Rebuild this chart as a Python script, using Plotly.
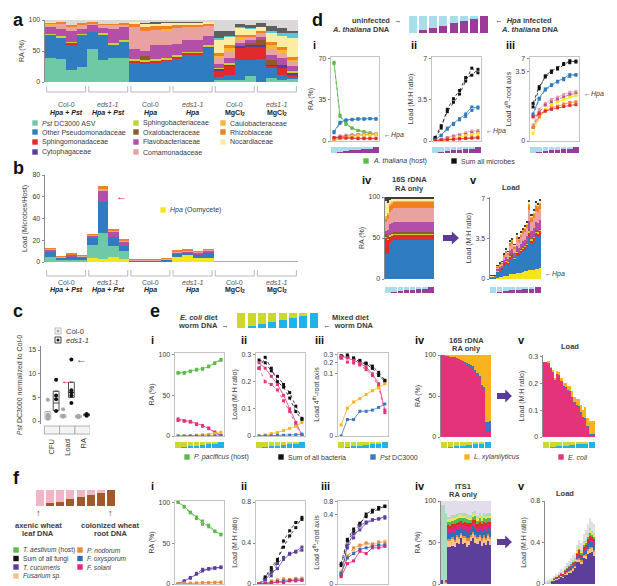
import plotly.graph_objects as go

W, H = 617, 586
FONT = "Liberation Sans, Arial, Helvetica, sans-serif"
TXT = "#3a3a3a"
AX = "#8a8a8a"
FRAME = "#c4c4c4"


def PX(x):
    return x / W


def PY(y):
    return 1 - y / H


# ---------------- colours ----------------
C_PST = '#70c9a6'
C_PSEUDO = '#2f7dc0'
C_SPHINGOM = '#e12a2b'
C_CYTO = '#5b3b97'
C_SPHINGOB = '#c4d52f'
C_OXALO = '#8c5a2d'
C_FLAVO = '#b34fa8'
C_COMA = '#e8a2a2'
C_CAULO = '#f8b731'
C_RHIZO = '#f07f25'
C_NOCAR = '#fbeea3'
C_CYANX = '#5ac7d9'
C_DARK = '#5f5f5f'
C_OTHER = '#dcd8d8'
C_HPA = '#f6e51b'
C_HOST = '#5cba47'
C_BLACK = '#111111'

# ---------------- panel a / b data ----------------
genotypes = ['Col-0', 'eds1-1', 'Col-0', 'eds1-1', 'Col-0', 'eds1-1']
treatments = ['Hpa + Pst', 'Hpa + Pst', 'Hpa', 'Hpa', 'MgCl2', 'MgCl2']
samples = list(range(24))

a_pst = [39, 37, 20, 24, 53, 35, 38, 38, 0, 0, 0, 0, 0, 0, 0, 0, 3, 3, 3, 10, 0, 7, 3, 5]
a_pseudo = [38, 34, 40, 53, 28, 42, 22, 28, 31, 30, 32, 34, 38, 45, 44, 55, 5, 9, 32, 26, 37, 15, 9, 4]
a_sphingom = [0, 1, 3, 0, 0, 0, 0, 0, 4, 3, 3, 3, 3, 2, 3, 3, 10, 15, 20, 22, 21, 4, 12, 3]
a_cyto = [0, 0, 0, 0, 0, 0, 0, 0, 0, 0, 0, 0, 0, 0, 0, 0, 3, 2, 3, 2, 2, 2, 3, 4]
a_sphingob = [1, 2, 1, 1, 0, 2, 3, 1, 2, 2, 2, 2, 3, 2, 2, 2, 2, 1, 0, 0, 0, 0, 0, 2]
a_oxalo = [0, 0, 0, 0, 0, 0, 0, 0, 0, 7, 0, 0, 0, 0, 0, 0, 0, 0, 0, 3, 8, 8, 0, 0]
a_flavo = [10, 12, 18, 8, 11, 8, 23, 21, 17, 8, 23, 21, 18, 19, 18, 15, 6, 8, 5, 5, 4, 8, 12, 8]
a_coma = [5, 9, 7, 7, 3, 5, 6, 5, 34, 33, 24, 23, 25, 20, 21, 15, 10, 10, 6, 5, 8, 10, 8, 6]
a_caulo = [1, 0, 0, 0, 0, 0, 0, 0, 0, 0, 0, 2, 0, 0, 0, 0, 3, 8, 3, 0, 0, 6, 4, 4]
a_rhizo = [2, 2, 3, 2, 1, 2, 2, 2, 5, 5, 6, 6, 5, 5, 5, 4, 5, 3, 4, 3, 3, 5, 5, 5]
a_nocar = [1, 0, 0, 0, 0, 0, 0, 0, 4, 6, 5, 5, 4, 3, 3, 3, 22, 15, 12, 10, 6, 15, 18, 30]
a_cyanx = [0, 0, 0, 0, 0, 0, 0, 0, 0, 0, 0, 0, 0, 0, 0, 0, 2, 1, 1, 1, 0, 3, 5, 8]
a_dark = [0, 0, 0, 0, 0, 0, 0, 0, 1, 1, 1, 1, 1, 1, 1, 1, 12, 8, 5, 5, 6, 8, 8, 4]

b_hpa = [0, 0, 0, 0, 4, 3, 5, 3, 0.6, 0.6, 0.6, 0.8, 5, 6, 4, 4, 0, 0, 0, 0, 0, 0, 0, 0]
b_pst = [5, 2, 1.5, 1.5, 12, 24, 10, 7.5, 0, 0, 0, 0, 0, 0, 0, 0, 0, 0, 0, 0, 0, 0, 0, 0]
b_pseudo = [4.5, 1.8, 3.5, 3, 6, 28, 8, 4.5, 0.7, 0.7, 0.7, 1.2, 2.5, 3, 3, 5, 0.1, 0.1, 0.2, 0.2, 0.2, 0.1, 0.1, 0.1]
b_flavo = [2, 0.6, 1.5, 1, 2, 10, 5, 4, 0.3, 0.3, 0.3, 0.4, 1.5, 1, 1.5, 1.5, 0.1, 0.1, 0.1, 0.1, 0.1, 0.05, 0.05, 0.05]
b_coma = [0.5, 0.3, 0.8, 0.5, 1, 3, 1, 1, 0.4, 0.4, 0.4, 0.5, 1, 1, 1, 1, 0.1, 0.1, 0.2, 0.1, 0.2, 0.1, 0.1, 0.1]
b_rhizo = [0.3, 0.2, 0.4, 0.3, 0.6, 1.5, 0.6, 0.5, 0.1, 0.1, 0.1, 0.1, 0.4, 0.4, 0.4, 0.4, 0, 0, 0, 0, 0, 0, 0, 0]
b_other = [0, 0, 0, 0, 0, 0, 0, 0, 0, 0, 0, 0, 0, 0, 0, 0, 0.1, 0.2, 0.2, 0.2, 0.3, 0.1, 0.1, 0.1]

# ---------------- panel c data ----------------
c_cats = ['CFU', 'Load', 'RA']
c_col0_cfu = [0.5, 0.7, 1.0, 1.4, 4.5]
c_col0_load = [0.9, 1.0, 1.1, 2.5]
c_col0_ra = [0.8, 1.0, 1.1]
c_eds_cfu = [2.1, 4.6, 5.4, 8.7]
c_eds_load = [3.8, 5.4, 6.1, 6.5, 13.0]
c_eds_ra = [1.1, 1.3, 1.5]
c_col0_q1 = [0.4, 0.8, 0.7]
c_col0_med = [1.0, 1.0, 1.0]
c_col0_q3 = [2.0, 1.3, 1.2]
c_eds_q1 = [2.2, 5.0, 1.1]
c_eds_med = [3.8, 6.0, 1.3]
c_eds_q3 = [6.3, 8.2, 1.5]

# ---------------- panel d data ----------------
steps = [1, 2, 3, 4, 5, 6, 7, 8]
d_infected_frac = [0, 0.16, 0.31, 0.44, 0.58, 0.71, 0.82, 1.0]

di_host_r1 = [67, 22, 15, 11, 9, 8, 7, 6]
di_host_r2 = [66, 21, 14, 11, 9, 7.5, 6.5, 6]
di_pseudo_r1 = [8, 16, 18, 18.5, 18.5, 19, 19, 19]
di_pseudo_r2 = [7, 15, 17.5, 18, 19, 18.5, 19, 18.5]
di_coma = [3, 4.5, 5, 5.5, 5.5, 6, 6, 6.5]
di_flavo = [2, 3.5, 4, 4.5, 5, 5, 5.5, 5.5]
di_hpa = [0, 2, 3, 4, 4.5, 5, 5, 5.5]
di_rhizo = [1.5, 2, 2.5, 2.5, 2.5, 2.5, 2.5, 2.5]
di_sphingom = [3, 3, 2.5, 2.5, 2, 2, 2, 2]

dii_sum_r1 = [0.3, 1.3, 2.5, 3.3, 4.0, 5.1, 6.2, 5.8]
dii_sum_r2 = [0.2, 1.1, 2.7, 3.6, 4.3, 5.4, 5.6, 6.1]
dii_pseudo_r1 = [0.08, 0.5, 1.1, 1.5, 1.9, 2.3, 2.9, 2.8]
dii_pseudo_r2 = [0.06, 0.45, 1.0, 1.4, 1.8, 2.1, 2.6, 2.9]
dii_coma = [0.01, 0.15, 0.3, 0.45, 0.55, 0.7, 0.85, 0.9]
dii_flavo = [0.005, 0.1, 0.25, 0.35, 0.45, 0.55, 0.7, 0.75]
dii_hpa = [0.0005, 0.05, 0.15, 0.25, 0.35, 0.45, 0.55, 0.65]
dii_rhizo = [0.005, 0.05, 0.12, 0.18, 0.22, 0.28, 0.33, 0.35]
dii_sphingom = [0.05, 0.08, 0.12, 0.15, 0.18, 0.21, 0.24, 0.26]

div_pseudo = [30, 31, 44, 46, 47, 47, 47, 47, 47, 47, 48, 48, 47, 48, 48, 48, 48, 48, 48, 48, 48, 48, 48, 48]
div_sphingom = [20, 17, 8, 7, 7, 7, 7, 7, 7, 7, 6, 6, 7, 6, 6, 6, 6, 6, 6, 6, 6, 6, 6, 6]
div_sphingob = [1, 1, 2, 2, 2, 2, 2, 2, 2, 2, 2, 2, 2, 2, 2, 2, 2, 2, 2, 2, 2, 2, 2, 2]
div_oxalo = [4, 3, 1, 1, 1, 1, 1, 1, 1, 1, 1, 1, 1, 1, 1, 1, 1, 1, 1, 1, 1, 1, 1, 1]
div_flavo = [4, 8, 12, 12, 13, 13, 13, 12, 13, 13, 13, 13, 13, 13, 13, 13, 13, 13, 13, 13, 13, 13, 13, 13]
div_coma = [10, 13, 15, 16, 16, 16, 16, 17, 16, 16, 16, 16, 16, 16, 16, 16, 16, 16, 16, 16, 16, 16, 16, 16]
div_rhizo = [4, 5, 7, 8, 8, 8, 8, 8, 8, 8, 8, 8, 8, 8, 8, 8, 8, 8, 8, 8, 8, 8, 8, 8]
div_caulo = [4, 3, 3, 2, 2, 2, 2, 2, 2, 2, 2, 2, 2, 2, 2, 2, 2, 2, 2, 2, 2, 2, 2, 2]
div_nocar = [18, 12, 4, 3, 2, 2, 2, 2, 2, 2, 2, 2, 2, 2, 2, 2, 2, 2, 2, 2, 2, 2, 2, 2]

dv_total = [0.3, 0.3, 0.3, 1.2, 1.4, 1.5, 2.2, 2.6, 2.4, 3.3, 3.5, 3.0, 3.9, 3.6, 4.1, 4.4, 4.6, 5.0, 6.8, 5.6, 6.0, 6.7, 6.6, 6.9]
dv_hpa = [0, 0, 0, 0.1, 0.15, 0.15, 0.25, 0.3, 0.3, 0.4, 0.45, 0.4, 0.5, 0.5, 0.55, 0.6, 0.65, 0.7, 0.8, 0.75, 0.8, 0.9, 0.9, 0.95]

# ---------------- panel e data ----------------
e_mixed_frac = [0, 0.15, 0.27, 0.4, 0.55, 0.67, 0.78, 1.0]
C_EYEL = '#cdd72d'
C_ECYAN = '#1fb3ea'
C_ECOLI = '#e5337b'
C_LXYL = '#f9b31d'
C_PSTB = '#3a78c2'

ei_host_r1 = [78, 78, 80, 81, 83, 85, 90, 94]
ei_host_r2 = [77, 77, 79, 82, 82, 86, 89, 93]
ei_ecoli_r1 = [21, 19, 18, 15, 13, 9, 5, 0.5]
ei_ecoli_r2 = [19, 18, 17, 14, 12, 10, 4, 0.3]
ei_lxyl = [0, 0, 0.5, 1, 1.5, 2, 3, 4.5]
ei_pst = [0, 0, 0, 0, 0, 0, 0, 0.2]

eii_sum_r1 = [0.28, 0.27, 0.24, 0.22, 0.19, 0.16, 0.11, 0.065]
eii_sum_r2 = [0.25, 0.29, 0.25, 0.20, 0.18, 0.14, 0.09, 0.06]
eii_ecoli_r1 = [0.27, 0.25, 0.22, 0.19, 0.15, 0.10, 0.05, 0.003]
eii_ecoli_r2 = [0.25, 0.20, 0.19, 0.17, 0.13, 0.09, 0.04, 0.002]
eii_lxyl = [0.0001, 0.004, 0.009, 0.013, 0.02, 0.028, 0.036, 0.05]
eii_pst = [0, 0.0005, 0.0005, 0.0025, 0.0025, 0.003, 0.0045, 0.007]

eiv_ecoli = [100, 100, 99, 99, 98, 97, 97, 96, 95, 94, 92, 91, 89, 87, 86, 84, 80, 76, 72, 60, 58, 7, 7, 7]
eiv_pst = [0, 0, 0, 0, 0, 0, 0, 0, 0.5, 0.5, 1, 1, 1, 1.5, 1.5, 2, 2, 2, 2.5, 3, 3, 11, 11, 12]
ev_total = [0.28, 0.28, 0.28, 0.26, 0.25, 0.22, 0.245, 0.24, 0.22, 0.2, 0.2, 0.19, 0.19, 0.17, 0.15, 0.14, 0.14, 0.12, 0.1, 0.11, 0.07, 0.06, 0.06, 0.06]

# ---------------- panel f data ----------------
f_root_frac = [0, 0.17, 0.27, 0.42, 0.58, 0.67, 0.79, 1.0]
C_FPINK = '#f2b5c6'
C_FBROWN = '#a0592a'
C_TCUC = '#5c3f9a'
C_FUSSP = '#f9c28c'
C_PNOD = '#e58a35'
C_FOXY = '#2f6db5'
C_FSOL = '#e6237b'

fi_host_r1 = [100, 95, 88, 82, 77, 70, 64, 61]
fi_host_r2 = [100, 94, 87, 80, 73, 72, 65, 60]
fi_tcuc_r1 = [0, 4, 8, 12, 16, 19, 20, 20]
fi_tcuc_r2 = [0, 3, 7, 13, 18, 18, 19, 21]
fi_fussp = [0, 1, 1, 1.5, 1.5, 2, 2, 2.5]
fi_pnod = [0, 0.5, 1, 1, 1.5, 1.5, 2, 2]

fii_sum_r1 = [0.003, 0.07, 0.16, 0.24, 0.36, 0.47, 0.55, 0.65]
fii_sum_r2 = [0.002, 0.06, 0.13, 0.22, 0.42, 0.52, 0.6, 0.63]
fii_tcuc_r1 = [0.0001, 0.04, 0.11, 0.15, 0.24, 0.29, 0.32, 0.36]
fii_tcuc_r2 = [0.0002, 0.03, 0.08, 0.2, 0.26, 0.3, 0.31, 0.33]
fii_fussp = [0.0005, 0.012, 0.02, 0.035, 0.045, 0.04, 0.05, 0.06]
fii_pnod = [0.0003, 0.01, 0.03, 0.04, 0.05, 0.045, 0.055, 0.05]
fii_foxy = [0.0002, 0.008, 0.015, 0.025, 0.03, 0.035, 0.04, 0.04]
fii_fsol = [0.00005, 0.003, 0.005, 0.02, 0.015, 0.03, 0.03, 0.035]

fiv_tcuc = [5, 0, 0, 44, 45, 46, 45, 50, 48, 55, 48, 50, 45, 47, 52, 55, 50, 48, 52, 46, 50, 47, 52, 47]
fiv_fussp = [0, 0, 2, 8, 7, 8, 6, 7, 6, 5, 8, 6, 7, 6, 5, 6, 7, 6, 5, 7, 6, 7, 6, 7]
fiv_pnod = [0, 0, 1, 2, 2, 3, 2, 2, 3, 2, 2, 2, 3, 2, 2, 2, 2, 3, 2, 2, 3, 2, 2, 3]
fiv_foxy = [0, 0, 1, 8, 7, 6, 8, 7, 8, 6, 7, 8, 9, 7, 6, 7, 8, 7, 6, 8, 7, 8, 7, 8]
fiv_fsol = [0, 0, 1, 6, 5, 6, 7, 5, 6, 5, 6, 5, 6, 7, 5, 4, 6, 5, 6, 6, 5, 6, 5, 6]
fiv_red = [0, 0, 0, 3, 4, 3, 4, 3, 4, 3, 3, 4, 3, 4, 3, 3, 4, 3, 4, 3, 4, 3, 3, 4]
fiv_green = [0, 0, 0, 4, 5, 4, 5, 4, 5, 4, 5, 4, 5, 4, 4, 4, 5, 4, 5, 4, 4, 5, 4, 4]
fiv_yellow = [0, 0, 0, 3, 3, 4, 3, 3, 3, 3, 3, 3, 3, 3, 3, 3, 3, 3, 3, 3, 3, 3, 3, 3]
fiv_mint = [90, 95, 80, 3, 3, 3, 3, 3, 3, 3, 3, 3, 3, 3, 3, 3, 3, 3, 3, 3, 3, 3, 3, 3]
fv_total = [0.02, 0.03, 0.04, 0.05, 0.08, 0.1, 0.12, 0.14, 0.13, 0.17, 0.2, 0.22, 0.25, 0.28, 0.3, 0.38, 0.42, 0.4, 0.48, 0.52, 0.58, 0.64, 0.6, 0.58]

# ====================================================================
fig = go.Figure()
axes_layout = {}
ann = []
shp = []
counter = [0]


def new_axes(x0, x1, y0, y1, xa=None, ya=None):
    counter[0] += 1
    n = counter[0]
    sx = '' if n == 1 else str(n)
    xr, yr = 'x' + sx, 'y' + sx
    bx = dict(domain=[PX(x0), PX(x1)], anchor=yr, showgrid=False, zeroline=False,
              showline=False, ticks='', showticklabels=False, fixedrange=True)
    by = dict(domain=[PY(y1), PY(y0)], anchor=xr, showgrid=False, zeroline=False,
              showline=False, ticks='', showticklabels=False, fixedrange=True)
    if xa:
        bx.update(xa)
    if ya:
        by.update(ya)
    axes_layout['xaxis' + sx] = bx
    axes_layout['yaxis' + sx] = by
    return xr, yr


def yax(rng, tickvals=None, ticktext=None, title=None, frame=False, standoff=3):
    d = dict(range=rng, showline=True, linecolor=FRAME if frame else AX, linewidth=0.8,
             ticks='outside', ticklen=2.5, tickwidth=0.7, tickcolor=AX, showticklabels=True,
             tickfont=dict(size=7, color=TXT, family=FONT))
    if tickvals is not None:
        d['tickvals'] = tickvals
    if ticktext is not None:
        d['ticktext'] = ticktext
    if title:
        d['title'] = dict(text=title, font=dict(size=7, color=TXT, family=FONT), standoff=standoff)
    if frame:
        d['mirror'] = True
    return d


def xframe(rng):
    return dict(range=rng, showline=True, mirror=True, linecolor=FRAME, linewidth=0.8)


def add_bar(xr, yr, xs, ys, color, width=None):
    fig.add_trace(go.Bar(x=xs, y=ys, marker=dict(color=color, line=dict(width=0)),
                         xaxis=xr, yaxis=yr, width=width, hoverinfo='skip'))


def add_line(xr, yr, ys, color, dash='solid', root=False):
    yv = [v ** 0.25 for v in ys] if root else ys
    fig.add_trace(go.Scatter(x=steps, y=yv, mode='lines+markers',
                             line=dict(color=color, width=0.8, dash=dash),
                             marker=dict(color=color, size=3, symbol='square'),
                             xaxis=xr, yaxis=yr, hoverinfo='skip'))


def text(x, y, s, size=7.5, anchor='left', bold=False, color=TXT, yanchor='middle', angle=0):
    if bold:
        s = '<b>' + s + '</b>'
    ann.append(dict(x=PX(x), y=PY(y), xref='paper', yref='paper', text=s, showarrow=False,
                    xanchor=anchor, yanchor=yanchor, textangle=angle,
                    font=dict(size=size, color=color, family=FONT)))


def legend_item(x, y, color, label, size=7):
    shp.append(dict(type='rect', xref='paper', yref='paper', x0=PX(x - 2.7), x1=PX(x + 2.7),
                    y0=PY(y + 2.7), y1=PY(y - 2.7), fillcolor=color, line=dict(width=0)))
    text(x + 5, y, label, size=size)


def red_arrow(xr, yr, xv, yv):
    ann.append(dict(x=xv, y=yv, xref=xr, yref=yr, text='←', showarrow=False, xanchor='left',
                    yanchor='middle', font=dict(size=11, color='#e8262b', family=FONT)))


def strip(x0, x1, y0, y1, frac, c_top, c_bot, width=0.9):
    xr, yr = new_axes(x0, x1, y0, y1, xa=dict(range=[0.5, 8.5]), ya=dict(range=[0, 1]))
    add_bar(xr, yr, steps, frac, c_bot, width)
    add_bar(xr, yr, steps, [1 - f for f in frac], c_top, width)


def block_arrow(xa, xb, yc, color='#5b3b97'):
    se = xa + (xb - xa) * 0.55
    pts = [(xa, yc - 3), (se, yc - 3), (se, yc - 6.5), (xb, yc), (se, yc + 6.5), (se, yc + 3), (xa, yc + 3)]
    path = 'M ' + ' L '.join(f'{PX(px):.5f} {PY(py):.5f}' for px, py in pts) + ' Z'
    shp.append(dict(type='path', xref='paper', yref='paper', path=path, fillcolor=color, line=dict(width=0)))


def remainder(*cols):
    return [max(0, 100 - sum(v)) for v in zip(*cols)]


# ---------------- panel a ----------------
xa_a, ya_a = new_axes(37, 290, 12, 74, xa=dict(range=[-0.5, 23.5]),
                      ya=yax([0, 100], [0, 50, 100], title='RA (%)'))
a_series = [(a_pst, C_PST), (a_pseudo, C_PSEUDO), (a_sphingom, C_SPHINGOM), (a_cyto, C_CYTO),
            (a_sphingob, C_SPHINGOB), (a_oxalo, C_OXALO), (a_flavo, C_FLAVO), (a_coma, C_COMA),
            (a_caulo, C_CAULO), (a_rhizo, C_RHIZO), (a_nocar, C_NOCAR), (a_cyanx, C_CYANX),
            (a_dark, C_DARK)]
for vals, col in a_series:
    add_bar(xa_a, ya_a, samples, vals, col)
add_bar(xa_a, ya_a, samples, remainder(*[s[0] for s in a_series]), C_OTHER)

# ---------------- panel b ----------------
xa_b, ya_b = new_axes(37, 290, 167, 254, xa=dict(range=[-0.5, 23.5]),
                      ya=yax([0, 80], [0, 20, 40, 60, 80], title='Load (Microbes/Host)'))
for vals, col in [(b_hpa, C_HPA), (b_pst, C_PST), (b_pseudo, C_PSEUDO), (b_flavo, C_FLAVO),
                  (b_coma, C_COMA), (b_rhizo, C_RHIZO), (b_other, '#b9a9a9')]:
    add_bar(xa_b, ya_b, samples, vals, col)
red_arrow(xa_b, ya_b, 6.0, 61)
legend_item(155, 202, C_HPA, '<i>Hpa</i> (Oomycete)')

# group brackets + labels for a and b
for xr, ytop, ybot, yl1, yl2 in [(xa_a, 78, 84, 91, 99), (xa_b, 262, 268, 274, 282)]:
    for g in range(6):
        g0, g1 = g * 4 - 0.35, g * 4 + 3.35
        shp.append(dict(type='path', xref=xr, yref='paper',
                        path=f'M {g0} {PY(ytop):.5f} L {g0} {PY(ybot):.5f} L {g1} {PY(ybot):.5f} L {g1} {PY(ytop):.5f}',
                        line=dict(color='#a8a8a8', width=0.8)))
        gen = genotypes[g] if genotypes[g] == 'Col-0' else '<i>' + genotypes[g] + '</i>'
        tr = treatments[g]
        if tr == 'Hpa + Pst':
            tr = '<i>Hpa</i> + <i>Pst</i>'
        elif tr == 'Hpa':
            tr = '<i>Hpa</i>'
        else:
            tr = 'MgCl<sub>2</sub>'
        ann.append(dict(x=g * 4 + 1.5, y=PY(yl1), xref=xr, yref='paper', text=gen, showarrow=False,
                        font=dict(size=7, color='#555555', family=FONT)))
        ann.append(dict(x=g * 4 + 1.5, y=PY(yl2), xref=xr, yref='paper', text='<b>' + tr + '</b>',
                        showarrow=False, font=dict(size=7, color='#222222', family=FONT)))

# legend for a
a_leg = [(27, 115, C_PST, '<i>Pst</i> DC3000 ASV'), (27, 124, C_PSEUDO, 'Other Pseudomonadaceae'),
         (27, 134, C_SPHINGOM, 'Sphingomonadaceae'), (27, 144, C_CYTO, 'Cytophagaceae'),
         (128, 115, C_SPHINGOB, 'Sphingobacteriaceae'), (128, 124, C_OXALO, 'Oxalobacteraceae'),
         (128, 134, C_FLAVO, 'Flavobacteriaceae'), (128, 144, C_COMA, 'Comamonadaceae'),
         (215, 115, C_CAULO, 'Caulobacteraceae'), (215, 124, C_RHIZO, 'Rhizobiaceae'),
         (215, 134, C_NOCAR, 'Nocardiaceae')]
for x, y, c, lab in a_leg:
    legend_item(x, y, c, lab)

# ---------------- panel c ----------------
xa_c, ya_c = new_axes(33, 82, 338, 416, xa=dict(range=[0.28, 3.49]),
                      ya=yax([-0.63, 15.85], [0, 5, 10, 15], title='<i>Pst</i> DC3000 normalized to Col-0',
                             standoff=4))
cpos = [1, 2, 3]
off = 0.27
fig.add_trace(go.Box(x=[p - off for p in cpos], q1=c_col0_q1, median=c_col0_med, q3=c_col0_q3,
                     lowerfence=c_col0_q1, upperfence=c_col0_q3, width=0.38,
                     line=dict(color='#a0a0a0', width=0.8), fillcolor='rgba(0,0,0,0)',
                     xaxis=xa_c, yaxis=ya_c, hoverinfo='skip'))
fig.add_trace(go.Box(x=[p + off for p in cpos], q1=c_eds_q1, median=c_eds_med, q3=c_eds_q3,
                     lowerfence=c_eds_q1, upperfence=c_eds_q3, width=0.38,
                     line=dict(color='#222222', width=0.8), fillcolor='rgba(0,0,0,0)',
                     xaxis=xa_c, yaxis=ya_c, hoverinfo='skip'))
for k, (g0, g1) in enumerate([(c_col0_cfu, c_eds_cfu), (c_col0_load, c_eds_load), (c_col0_ra, c_eds_ra)]):
    fig.add_trace(go.Scatter(x=[cpos[k] - off] * len(g0), y=g0, mode='markers',
                             marker=dict(color='#a6a6a6', size=4), xaxis=xa_c, yaxis=ya_c, hoverinfo='skip'))
    fig.add_trace(go.Scatter(x=[cpos[k] + off] * len(g1), y=g1, mode='markers',
                             marker=dict(color='#111111', size=4), xaxis=xa_c, yaxis=ya_c, hoverinfo='skip'))
for k, lab in enumerate(c_cats):
    shp.append(dict(type='rect', xref=xa_c, yref='paper', x0=cpos[k] - 0.5, x1=cpos[k] + 0.5,
                    y0=PY(426), y1=PY(418), fillcolor='#f4f4f4', line=dict(color='#a0a0a0', width=0.8)))
    ann.append(dict(x=cpos[k], y=PY(429), xref=xa_c, yref='paper', text=lab, showarrow=False,
                    textangle=-90, xanchor='center', yanchor='top',
                    font=dict(size=7.5, color=TXT, family=FONT)))
red_arrow(xa_c, ya_c, cpos[0] + 0.45, c_eds_cfu[-1])
red_arrow(xa_c, ya_c, cpos[1] + 0.45, c_eds_load[-1])
# legend c
for yy, col, lab in [(323, '#a6a6a6', 'Col-0'), (332, '#111111', '<i>eds1-1</i>')]:
    shp.append(dict(type='rect', xref='paper', yref='paper', x0=PX(47), x1=PX(53), y0=PY(yy + 3),
                    y1=PY(yy - 3), fillcolor='white', line=dict(color=col, width=0.8)))
    shp.append(dict(type='circle', xref='paper', yref='paper', x0=PX(48.5), x1=PX(51.5), y0=PY(yy + 1.5),
                    y1=PY(yy - 1.5), fillcolor=col, line=dict(width=0)))
    text(56, yy, lab)

# ---------------- panel d ----------------
C_DCYAN = '#a8dde9'
C_DPURP = '#9a3b99'
xs_, ys_ = new_axes(400, 481, 8, 25, xa=dict(range=[0.5, 8.5]), ya=dict(range=[0, 1]))
add_bar(xs_, ys_, steps, d_infected_frac, C_DPURP, 0.78)
add_bar(xs_, ys_, steps, [1 - f for f in d_infected_frac], C_DCYAN, 0.78)
text(396, 13, 'uninfected  →', anchor='right', bold=True)
text(384, 21.5, '<i>A. thaliana</i> DNA', anchor='right', bold=True)
text(485, 13, '←  <i>Hpa</i> infected', anchor='left', bold=True)
text(491, 21.5, '<i>A. thaliana</i> DNA', anchor='left', bold=True)

xd1, yd1 = new_axes(323, 371, 49, 133, xa=xframe([0.5, 8.5]),
                    ya=yax([0, 71.5], [0, 35, 70], title='RA (%)', frame=True))
add_line(xd1, yd1, di_host_r1, C_HOST)
add_line(xd1, yd1, di_host_r2, C_HOST, 'dot')
add_line(xd1, yd1, di_pseudo_r1, C_PSEUDO)
add_line(xd1, yd1, di_pseudo_r2, C_PSEUDO, 'dot')
add_line(xd1, yd1, di_coma, C_COMA)
add_line(xd1, yd1, di_flavo, C_FLAVO)
add_line(xd1, yd1, di_hpa, C_HPA)
add_line(xd1, yd1, di_rhizo, C_RHIZO)
add_line(xd1, yd1, di_sphingom, C_SPHINGOM)

xd2, yd2 = new_axes(424, 473, 49, 133, xa=xframe([0.5, 8.5]),
                    ya=yax([0, 7.15], [0, 3.5, 7], ['0', '3.5', '7'], title='Load (M:H ratio)', frame=True))
xd3, yd3 = new_axes(522, 571, 49, 133, xa=xframe([0.5, 8.5]),
                    ya=yax([0, 7 ** 0.25 * 1.015], [0, 3.5 ** 0.25, 7 ** 0.25], ['0', '3.5', '7'],
                           title='Load 4<sup>th</sup>-root axis', frame=True))
for xr, yr, rt in [(xd2, yd2, False), (xd3, yd3, True)]:
    add_line(xr, yr, dii_sum_r1, C_BLACK, 'dot', rt)
    add_line(xr, yr, dii_sum_r2, C_BLACK, 'dot', rt)
    add_line(xr, yr, dii_pseudo_r1, C_PSEUDO, 'solid', rt)
    add_line(xr, yr, dii_pseudo_r2, C_PSEUDO, 'dot', rt)
    add_line(xr, yr, dii_coma, C_COMA, 'solid', rt)
    add_line(xr, yr, dii_flavo, C_FLAVO, 'dot', rt)
    add_line(xr, yr, dii_hpa, C_HPA, 'solid', rt)
    add_line(xr, yr, dii_rhizo, C_RHIZO, 'solid', rt)
    add_line(xr, yr, dii_sphingom, C_SPHINGOM, 'solid', rt)
text(374, 127, '←<i>Hpa</i>', size=7)
text(476, 123, '←<i>Hpa</i>', size=7)
text(574, 86, '←<i>Hpa</i>', size=7)
for x0, x1 in [(323, 371), (424, 473), (522, 571)]:
    strip(x0, x1, 139, 145, d_infected_frac, C_DCYAN, C_DPURP)
legend_item(358, 153, C_HOST, '<i>A. thaliana</i> (host)')
legend_item(446, 153, C_BLACK, 'Sum all microbes')

xd4, yd4 = new_axes(377, 426, 189, 271, xa=dict(range=[-0.5, 23.5]),
                    ya=yax([0, 100], [0, 50, 100], title='RA (%)'))
div_series = [(div_pseudo, C_PSEUDO), (div_sphingom, C_SPHINGOM), (div_sphingob, C_SPHINGOB),
              (div_oxalo, C_OXALO), (div_flavo, C_FLAVO), (div_coma, C_COMA), (div_rhizo, C_RHIZO),
              (div_caulo, C_CAULO), (div_nocar, C_NOCAR)]
div_dark = remainder(*[s[0] for s in div_series])
for vals, col in div_series + [(div_dark, '#3d3d3d')]:
    add_bar(xd4, yd4, samples, vals, col)

xd5, yd5 = new_axes(482, 533, 189, 271, xa=dict(range=[-0.5, 23.5]),
                    ya=yax([0, 7.1], [0, 3.5, 7], ['0', '3.5', '7'], title='Load (M:H ratio)'))
add_bar(xd5, yd5, samples, dv_hpa, C_HPA)
for vals, col in div_series + [(div_dark, '#3d3d3d')]:
    seg = [(t - h) * v / 100 for t, h, v in zip(dv_total, dv_hpa, vals)]
    add_bar(xd5, yd5, samples, seg, col)
text(535, 266, '←<i>Hpa</i>', size=7)
strip(377, 426, 279, 285, d_infected_frac, C_DCYAN, C_DPURP)
strip(482, 533, 279, 285, d_infected_frac, C_DCYAN, C_DPURP)
block_arrow(435, 451, 230)
text(401, 172, '16S rDNA', anchor='center', bold=True, size=7.5)
text(401, 180.5, 'RA only', anchor='center', bold=True, size=7.5)
text(503, 179, 'Load', anchor='center', bold=True, size=7.5)

# ---------------- panel e ----------------
xs_, ys_ = new_axes(228, 311, 305, 320, xa=dict(range=[0.5, 8.5]), ya=dict(range=[0, 1]))
add_bar(xs_, ys_, steps, e_mixed_frac, C_ECYAN, 0.78)
add_bar(xs_, ys_, steps, [1 - f for f in e_mixed_frac], C_EYEL, 0.78)
text(212, 309, '<i>E. coli</i> diet', anchor='right', bold=True)
text(223, 317, 'worm DNA  →', anchor='right', bold=True)
text(322, 309, 'Mixed diet', anchor='left', bold=True)
text(313, 317, '←  worm DNA', anchor='left', bold=True)

xe1, ye1 = new_axes(167, 216, 345, 428, xa=xframe([0.5, 8.5]),
                    ya=yax([0, 102], [0, 50, 100], title='RA (%)', frame=True))
add_line(xe1, ye1, ei_host_r1, C_HOST)
add_line(xe1, ye1, ei_host_r2, C_HOST, 'dot')
add_line(xe1, ye1, ei_ecoli_r1, C_ECOLI)
add_line(xe1, ye1, ei_ecoli_r2, C_ECOLI, 'dot')
add_line(xe1, ye1, ei_lxyl, C_LXYL)
add_line(xe1, ye1, ei_pst, C_PSTB)

xe2, ye2 = new_axes(248, 297, 345, 428, xa=xframe([0.5, 8.5]),
                    ya=yax([0, 0.306], [0, 0.1, 0.2, 0.3], ['0', '0.1', '0.2', '0.3'],
                           title='Load (M:H ratio)', frame=True))
xe3, ye3 = new_axes(330, 380, 345, 428, xa=xframe([0.5, 8.5]),
                    ya=yax([0, 0.3 ** 0.25 * 1.015], [0, 0.1 ** 0.25, 0.2 ** 0.25, 0.3 ** 0.25],
                           ['0', '0.1', '0.2', '0.3'], title='Load 4<sup>th</sup>-root axis', frame=True))
for xr, yr, rt in [(xe2, ye2, False), (xe3, ye3, True)]:
    add_line(xr, yr, eii_sum_r1, C_BLACK, 'dot', rt)
    add_line(xr, yr, eii_sum_r2, C_BLACK, 'dot', rt)
    add_line(xr, yr, eii_ecoli_r1, C_ECOLI, 'solid', rt)
    add_line(xr, yr, eii_ecoli_r2, C_ECOLI, 'dot', rt)
    add_line(xr, yr, eii_lxyl, C_LXYL, 'solid', rt)
    add_line(xr, yr, eii_pst, C_PSTB, 'solid', rt)
for x0, x1 in [(167, 216), (248, 297), (330, 380)]:
    strip(x0, x1, 434, 440, e_mixed_frac, C_EYEL, C_ECYAN)

xe4, ye4 = new_axes(433, 483, 347, 429, xa=dict(range=[-0.5, 23.5]),
                    ya=yax([0, 100], [0, 50, 100], title='RA (%)'))
eiv_lxyl = remainder(eiv_ecoli, eiv_pst)
for vals, col in [(eiv_ecoli, C_ECOLI), (eiv_pst, C_PSTB), (eiv_lxyl, C_LXYL)]:
    add_bar(xe4, ye4, samples, vals, col)
xe5, ye5 = new_axes(535, 587, 347, 429, xa=dict(range=[-0.5, 23.5]),
                    ya=yax([0, 0.305], [0, 0.1, 0.2, 0.3], ['0', '0.1', '0.2', '0.3'], title='Load (M:H ratio)'))
for vals, col in [(eiv_ecoli, C_ECOLI), (eiv_pst, C_PSTB), (eiv_lxyl, C_LXYL)]:
    add_bar(xe5, ye5, samples, [t * v / 100 for t, v in zip(ev_total, vals)], col)
strip(433, 483, 434, 440, e_mixed_frac, C_EYEL, C_ECYAN)
strip(535, 587, 434, 440, e_mixed_frac, C_EYEL, C_ECYAN)
block_arrow(489, 504, 388)
text(458, 332, '16S rDNA', anchor='center', bold=True, size=7.5)
text(458, 340.5, 'RA only', anchor='center', bold=True, size=7.5)
text(562, 339, 'Load', anchor='center', bold=True, size=7.5)
for x, c, lab in [(179, C_HOST, '<i>P. pacificus</i> (host)'), (273, C_BLACK, 'Sum of all bacteria'),
                  (365, C_PSTB, '<i>Pst</i> DC3000'), (459, C_LXYL, '<i>L. xylanilyticus</i>'),
                  (553, C_ECOLI, '<i>E. coli</i>')]:
    legend_item(x, 449, c, lab)

# ---------------- panel f ----------------
xs_, ys_ = new_axes(27, 108, 482, 498, xa=dict(range=[0.5, 8.5]), ya=dict(range=[0, 1]))
add_bar(xs_, ys_, steps, f_root_frac, C_FBROWN, 0.78)
add_bar(xs_, ys_, steps, [1 - f for f in f_root_frac], C_FPINK, 0.78)
text(30, 505, '↑', anchor='center', size=9)
text(102, 505, '↑', anchor='center', size=9)
text(30, 517, 'axenic wheat', anchor='center', bold=True)
text(30, 525.5, 'leaf DNA', anchor='center', bold=True)
text(102, 517, 'colonized wheat', anchor='center', bold=True)
text(102, 525.5, 'root DNA', anchor='center', bold=True)
for x, y, c, lab in [(8, 542, C_HOST, '<i>T. aestivum</i> (host)'), (8, 550.5, C_BLACK, 'Sum of all fungi'),
                     (8, 559, C_TCUC, '<i>T. cucumeris</i>'), (8, 568, C_FUSSP, '<i>Fusarium sp.</i>'),
                     (72, 542, C_PNOD, '<i>P. nodorum</i>'), (72, 550.5, C_FOXY, '<i>F. oxysporum</i>'),
                     (72, 559, C_FSOL, '<i>F. solani</i>')]:
    legend_item(x, y, c, lab, size=6.6)

xf1, yf1 = new_axes(167, 216, 493, 576, xa=xframe([0.5, 8.5]),
                    ya=yax([0, 101.5], [0, 50, 100], title='RA (%)', frame=True))
add_line(xf1, yf1, fi_host_r1, C_HOST)
add_line(xf1, yf1, fi_host_r2, C_HOST, 'dot')
add_line(xf1, yf1, fi_tcuc_r1, C_TCUC)
add_line(xf1, yf1, fi_tcuc_r2, C_TCUC, 'dot')
add_line(xf1, yf1, fi_fussp, C_FUSSP)
add_line(xf1, yf1, fi_pnod, C_PNOD)

xf2, yf2 = new_axes(248, 297, 493, 576, xa=xframe([0.5, 8.5]),
                    ya=yax([0, 0.81], [0, 0.4, 0.8], ['0', '0.4', '0.8'], title='Load (M:H ratio)', frame=True))
xf3, yf3 = new_axes(330, 380, 493, 576, xa=xframe([0.5, 8.5]),
                    ya=yax([0, 0.8 ** 0.25 * 1.01], [0, 0.4 ** 0.25, 0.8 ** 0.25], ['0', '0.4', '0.8'],
                           title='Load 4<sup>th</sup>-root axis', frame=True))
for xr, yr, rt in [(xf2, yf2, False), (xf3, yf3, True)]:
    add_line(xr, yr, fii_sum_r1, C_BLACK, 'dot', rt)
    add_line(xr, yr, fii_sum_r2, C_BLACK, 'dot', rt)
    add_line(xr, yr, fii_tcuc_r1, C_TCUC, 'solid', rt)
    add_line(xr, yr, fii_tcuc_r2, C_TCUC, 'dot', rt)
    add_line(xr, yr, fii_fussp, C_FUSSP, 'solid', rt)
    add_line(xr, yr, fii_pnod, C_PNOD, 'dot', rt)
    add_line(xr, yr, fii_foxy, C_FOXY, 'solid', rt)
    add_line(xr, yr, fii_fsol, C_FSOL, 'solid', rt)
for x0, x1 in [(167, 216), (248, 297), (330, 380)]:
    strip(x0, x1, 579, 586, f_root_frac, C_FPINK, C_FBROWN)

fiv_series = [(fiv_tcuc, C_TCUC), (fiv_fussp, C_FUSSP), (fiv_pnod, C_PNOD), (fiv_foxy, C_FOXY),
              (fiv_fsol, C_FSOL), (fiv_red, '#d7301f'), (fiv_green, '#57b55a'), (fiv_yellow, '#f1e54a'),
              (fiv_mint, '#a8dcc2')]
fiv_rest = remainder(*[s[0] for s in fiv_series])
xf4, yf4 = new_axes(433, 483, 493, 576, xa=dict(range=[-0.5, 23.5]),
                    ya=yax([0, 100], [0, 50, 100], title='RA (%)'))
for vals, col in fiv_series + [(fiv_rest, '#e3dcea')]:
    add_bar(xf4, yf4, samples, vals, col)
xf5, yf5 = new_axes(537, 587, 493, 576, xa=dict(range=[-0.5, 23.5]),
                    ya=yax([0, 0.8], [0, 0.4, 0.8], ['0', '0.4', '0.8'], title='Load (M:H ratio)'))
for vals, col in fiv_series + [(fiv_rest, '#e3dcea')]:
    add_bar(xf5, yf5, samples, [t * v / 100 for t, v in zip(fv_total, vals)], col)
strip(433, 483, 579, 586, f_root_frac, C_FPINK, C_FBROWN)
strip(537, 587, 579, 586, f_root_frac, C_FPINK, C_FBROWN)
block_arrow(489, 504, 534)
text(455, 478, 'ITS1', anchor='center', bold=True, size=7.5)
text(455, 486.5, 'RA only', anchor='center', bold=True, size=7.5)
text(557, 485, 'Load', anchor='center', bold=True, size=7.5)

# ---------------- panel letters ----------------
for x, y, s in [(3, 12, 'a'), (3, 160, 'b'), (3, 303, 'c'), (302, 12, 'd'), (140, 303, 'e'), (3, 470, 'f')]:
    text(x, y, s, size=18, bold=True, color='#111111')
for x, y, s in [(303, 37, 'i'), (401, 37, 'ii'), (496, 37, 'iii'), (352, 172, 'iv'), (460, 172, 'v'),
                (141, 332, 'i'), (231, 332, 'ii'), (305, 332, 'iii'), (405, 332, 'iv'), (508, 332, 'v'),
                (141, 478, 'i'), (231, 478, 'ii'), (311, 478, 'iii'), (405, 478, 'iv'), (508, 478, 'v')]:
    text(x, y, s, size=11, bold=True, color='#111111')

fig.update_layout(
    width=W, height=586, autosize=False, template='none',
    margin=dict(l=0, r=0, t=0, b=0), paper_bgcolor='white', plot_bgcolor='rgba(0,0,0,0)',
    showlegend=False, barmode='stack', bargap=0,
    font=dict(family=FONT, size=7, color=TXT),
    annotations=ann, shapes=shp,
    **axes_layout,
)
fig.write_html('out.html')
